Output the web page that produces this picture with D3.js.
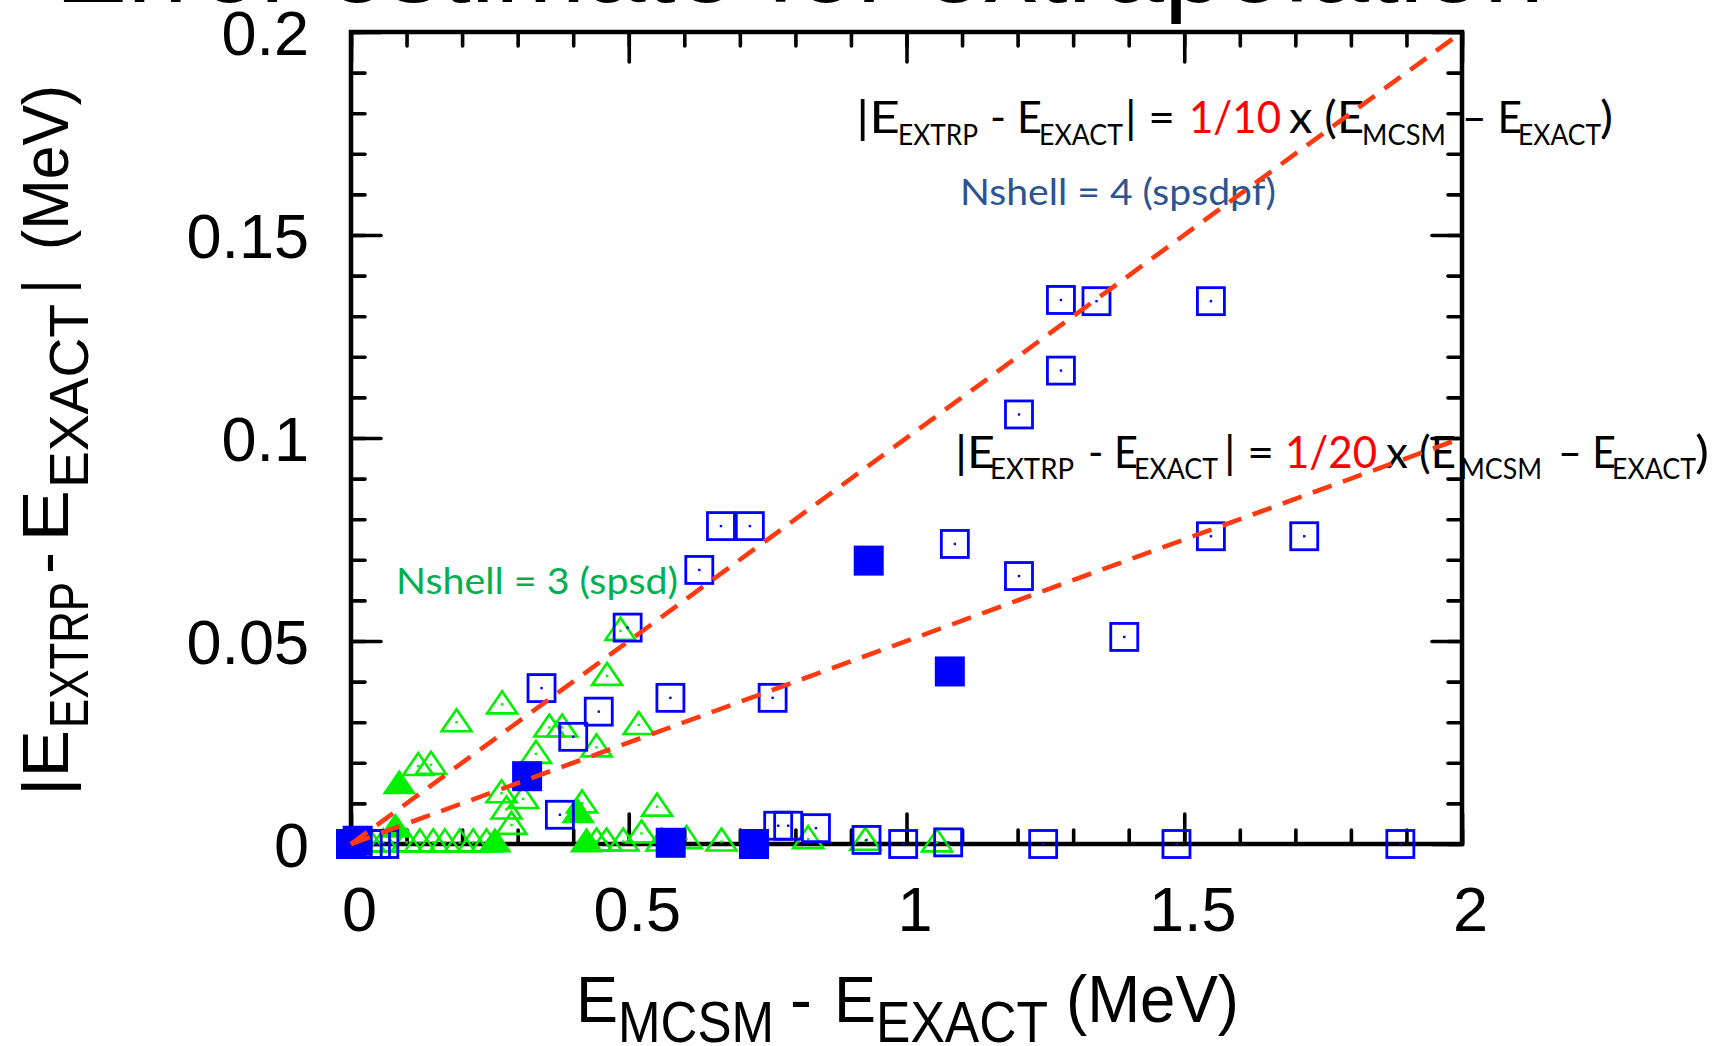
<!DOCTYPE html>
<html><head><meta charset="utf-8">
<script src="https://cdn.jsdelivr.net/npm/d3@7"></script>
<style>
html,body{margin:0;padding:0;background:#fff;overflow:hidden;}
svg{display:block;}
</style></head><body>
<svg id="chart" width="1729" height="1046"></svg>
<script>
// ---------- data ----------
const xTickValues = [0, 0.5, 1, 1.5, 2];
const xTickLabels = ["0", "0.5", "1", "1.5", "2"];
const yTickValues = [0, 0.05, 0.1, 0.15, 0.2];
const yTickLabels = ["0", "0.05", "0.1", "0.15", "0.2"];
const ratioSlopes = [0.1, 0.05];   // |E_EXTRP - E_EXACT| = slope x (E_MCSM - E_EXACT)

// Nshell = 4 (spsdpf): open squares
const n4OpenX = [1.278, 1.342, 1.548, 1.278, 1.2025, 1.087, 1.2025, 1.548, 1.716, 1.392,
                 0.666, 0.718, 0.627, 0.498, 0.343, 0.575, 0.446, 0.759, 0.400, 0.376,
                 0.769, 0.787, 0.837, 0.928, 0.994, 1.075, 1.246, 1.486, 1.889,
                 0.030, 0.045, 0.060];
const n4OpenY = [0.1340, 0.1337, 0.1337, 0.1166, 0.1058, 0.0739, 0.0660, 0.0758, 0.0758, 0.0510,
                 0.0783, 0.0783, 0.0675, 0.0533, 0.0384, 0.0360, 0.0326, 0.0360, 0.0264, 0.0072,
                 0.0045, 0.0045, 0.0039, 0.0010, 0.0000, 0.0004, 0.0000, 0.0000, 0.0000,
                 0.0000, 0.0000, 0.0000];
// Nshell = 4: filled squares
const n4FilledX = [0.932, 1.078, 0.317, 0.5755, 0.7255, 0.000, 0.012];
const n4FilledY = [0.0698, 0.0425, 0.0167, 0.0003, 0.0000, 0.0000, 0.0008];

// Nshell = 3 (spsd): open triangles
const n3OpenX = [0.485, 0.461, 0.272, 0.190, 0.121, 0.144, 0.357, 0.380, 0.333, 0.442,
                 0.518, 0.271, 0.310, 0.280, 0.289, 0.416, 0.551, 0.523,
                 0.034, 0.058, 0.100, 0.124, 0.148, 0.169, 0.196, 0.220, 0.244,
                 0.442, 0.460, 0.490, 0.559, 0.604, 0.667, 0.823, 0.926, 1.055];
const n3OpenY = [0.0525, 0.0414, 0.0344, 0.0300, 0.0192, 0.0195, 0.0287, 0.0287, 0.0222, 0.0238,
                 0.0293, 0.0125, 0.0111, 0.0085, 0.0047, 0.0100, 0.0092, 0.0026,
                 0.0004, 0.0004, 0.0004, 0.0004, 0.0004, 0.0004, 0.0004, 0.0004, 0.0004,
                 0.0006, 0.0006, 0.0006, 0.0006, 0.0012, 0.0006, 0.0012, 0.0008, 0.0004];
// Nshell = 3: filled triangles
const n3FilledX = [0.087, 0.409, 0.424, 0.259, 0.080];
const n3FilledY = [0.0147, 0.0076, 0.0004, 0.0004, 0.0040];

// ---------- layout ----------
const svg = d3.select("#chart");
const L = 351, R = 1462, T = 32, B = 844;
const x = d3.scaleLinear().domain([0, 2]).range([L, R]);
const y = d3.scaleLinear().domain([0, 0.2]).range([B, T]);

const SANS = "'Liberation Sans', Arial, Helvetica, sans-serif";
const CAL = "Lato, 'Open Sans', sans-serif";

function piece(g, px, py, str, size, w, fill, family) {
  const t = g.append("text")
    .attr("x", px).attr("y", py)
    .attr("font-family", family).attr("font-size", size)
    .attr("fill", fill).text(str);
  if (w) t.attr("textLength", w).attr("lengthAdjust", "spacingAndGlyphs");
  return t;
}

// title (cut off at the top)
piece(svg, 55, 2, "Error estimate for extrapolation", 105, 1489, "#000", SANS);

// frame
svg.append("rect").attr("x", L).attr("y", T).attr("width", R - L).attr("height", B - T)
  .attr("fill", "none").attr("stroke", "#000").attr("stroke-width", 4.5);

// ticks
const minorX = d3.range(0, 2.0001, 0.1);
const minorY = d3.range(0, 0.2001, 0.01);
function tickAxis(axis, tr) {
  const g = svg.append("g").attr("transform", tr).call(axis);
  g.select(".domain").remove();
  g.selectAll("line").attr("stroke", "#000").attr("stroke-width", 3.6).attr("stroke-linecap", "round");
  g.selectAll("text").remove();
  return g;
}
[[14, minorX, minorY], [30, xTickValues, yTickValues]].forEach(([len, xv, yv]) => {
  tickAxis(d3.axisLeft(y).tickValues(yv).tickSize(-len).tickFormat(""), `translate(${L},0)`);
  tickAxis(d3.axisRight(y).tickValues(yv).tickSize(-len).tickFormat(""), `translate(${R},0)`);
  tickAxis(d3.axisTop(x).tickValues(xv).tickSize(-len).tickFormat(""), `translate(0,${T})`);
  tickAxis(d3.axisBottom(x).tickValues(xv).tickSize(-len).tickFormat(""), `translate(0,${B})`);
});

// tick labels
const yl = svg.append("g").attr("transform", `translate(${L},0)`)
  .call(d3.axisLeft(y).tickValues(yTickValues).tickSize(0).tickPadding(42)
        .tickFormat((d, i) => yTickLabels[i]));
yl.select(".domain").remove();
yl.selectAll("text").attr("font-family", SANS).attr("font-size", 63).attr("fill", "#000")
  .attr("dy", "0.36em");
const xl = svg.append("g").attr("transform", `translate(0,${B})`)
  .call(d3.axisBottom(x).tickValues(xTickValues).tickSize(0).tickPadding(42)
        .tickFormat((d, i) => xTickLabels[i]));
xl.select(".domain").remove();
xl.selectAll("text").attr("font-family", SANS).attr("font-size", 63).attr("fill", "#000")
  .attr("x", 8).attr("dy", "0.71em");

// x axis title
const xt = svg.append("g");
piece(xt, 576, 1022, "E", 65, 42, "#000", SANS);
piece(xt, 618, 1042, "MCSM", 58, 156, "#000", SANS);
piece(xt, 790, 1022, "-", 65, 22, "#000", SANS);
piece(xt, 834, 1022, "E", 65, 42, "#000", SANS);
piece(xt, 876, 1042, "EXACT", 58, 172, "#000", SANS);
piece(xt, 1066, 1022, "(MeV)", 66, 173, "#000", SANS);

// y axis title (rotated)
const ytl = svg.append("g").attr("transform", "rotate(-90)");
piece(ytl, -796, 68, "|E", 65, 66, "#000", SANS);
piece(ytl, -728, 88, "EXTRP", 56, 146, "#000", SANS);
piece(ytl, -574, 68, "-", 65, 22, "#000", SANS);
piece(ytl, -542, 68, "E", 65, 52, "#000", SANS);
piece(ytl, -488, 88, "EXACT", 56, 184, "#000", SANS);
piece(ytl, -294, 68, "|", 65, 15, "#000", SANS);
piece(ytl, -250, 68, "(MeV)", 65, 165, "#000", SANS);

// ---------- markers ----------
const tri = (cx, cy) => `M${cx},${cy - 13}L${cx + 15},${cy + 9}L${cx - 15},${cy + 9}Z`;
const GREEN = "#00f000", BLUE = "#0000ff";

svg.append("g").selectAll("path").data(d3.zip(n3OpenX, n3OpenY)).join("path")
  .attr("d", d => tri(x(d[0]), y(d[1])))
  .attr("fill", "none").attr("stroke", GREEN).attr("stroke-width", 2.6);
svg.append("g").selectAll("rect").data(d3.zip(n3OpenX, n3OpenY)).join("rect")
  .attr("x", d => x(d[0]) - 1.2).attr("y", d => y(d[1]) - 1.2)
  .attr("width", 2.4).attr("height", 2.4).attr("fill", GREEN);
svg.append("g").selectAll("path").data(d3.zip(n3FilledX, n3FilledY)).join("path")
  .attr("d", d => tri(x(d[0]), y(d[1])))
  .attr("fill", GREEN).attr("stroke", GREEN).attr("stroke-width", 2);

svg.append("g").selectAll("rect").data(d3.zip(n4OpenX, n4OpenY)).join("rect")
  .attr("x", d => x(d[0]) - 13.5).attr("y", d => y(d[1]) - 13.5)
  .attr("width", 27).attr("height", 27)
  .attr("fill", "none").attr("stroke", BLUE).attr("stroke-width", 2.8);
svg.append("g").selectAll("rect").data(d3.zip(n4OpenX, n4OpenY)).join("rect")
  .attr("x", d => x(d[0]) - 1.2).attr("y", d => y(d[1]) - 1.2)
  .attr("width", 2.4).attr("height", 2.4).attr("fill", BLUE);
svg.append("g").selectAll("rect").data(d3.zip(n4FilledX, n4FilledY)).join("rect")
  .attr("x", d => x(d[0]) - 15).attr("y", d => y(d[1]) - 15)
  .attr("width", 30).attr("height", 30).attr("fill", BLUE);

// ---------- annotations ----------
const an = svg.append("g");
// 1/10 equation
piece(an, 856, 133, "|E", 44, 44, "#000", CAL);
piece(an, 898, 145, "EXTRP", 28, 80, "#000", CAL);
piece(an, 990, 133, "- E", 44, 52, "#000", CAL);
piece(an, 1039, 145, "EXACT", 28, 84, "#000", CAL);
piece(an, 1125, 133, "| =", 44, 50, "#000", CAL);
piece(an, 1189, 133, "1/10", 44, 92, "#ff0000", CAL);
piece(an, 1289, 133, "x (E", 44, 75, "#000", CAL);
piece(an, 1362, 145, "MCSM", 28, 84, "#000", CAL);
piece(an, 1462, 133, "– E", 44, 60, "#000", CAL);
piece(an, 1518, 145, "EXACT", 28, 83, "#000", CAL);
piece(an, 1600, 133, ")", 44, 13, "#000", CAL);
// 1/20 equation
piece(an, 955, 468, "|E", 44, 40, "#000", CAL);
piece(an, 990, 479, "EXTRP", 28, 84, "#000", CAL);
piece(an, 1088, 468, "- E", 44, 50, "#000", CAL);
piece(an, 1134, 479, "EXACT", 28, 84, "#000", CAL);
piece(an, 1224, 468, "| =", 44, 50, "#000", CAL);
piece(an, 1285, 468, "1/20", 44, 92, "#ff0000", CAL);
piece(an, 1386, 468, "x (E", 44, 70, "#000", CAL);
piece(an, 1460, 479, "MCSM", 28, 82, "#000", CAL);
piece(an, 1558, 468, "– E", 44, 58, "#000", CAL);
piece(an, 1612, 479, "EXACT", 28, 84, "#000", CAL);
piece(an, 1695, 468, ")", 44, 14, "#000", CAL);
// series labels
piece(an, 960, 205, "Nshell = 4 (spsdpf)", 37, 316, "#2b5592", CAL);
piece(an, 396, 594, "Nshell = 3 (spsd)", 37, 282, "#00b050", CAL);

// ---------- ratio lines ----------
const line = d3.line().x(d => x(d[0])).y(d => y(d[1]));
svg.append("g").selectAll("path").data(ratioSlopes).join("path")
  .attr("d", s => line([[0, 0], [2, 2 * s]]))
  .attr("fill", "none").attr("stroke", "#ff3a10").attr("stroke-width", 4.6)
  .attr("stroke-dasharray", "20,12");
</script>
</body></html>
